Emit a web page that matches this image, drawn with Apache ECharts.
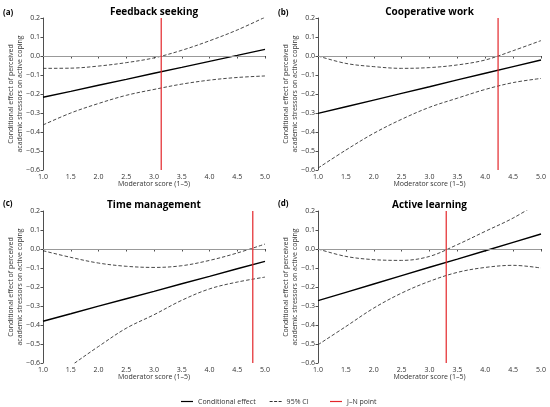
<!DOCTYPE html>
<html lang="en">
<head>
<meta charset="UTF-8">
<title>Conditional effect plots</title>
<script src="https://cdn.jsdelivr.net/npm/echarts@6/dist/echarts.min.js"></script>
<style>
  html, body { margin: 0; padding: 0; background: #fff; }
  #main { width: 550px; height: 407px; }
</style>
</head>
<body>
<div id="main"></div>
<script>
var moderator = [1.0, 1.5, 2.0, 2.5, 3.0, 3.5, 4.0, 4.5, 5.0];
var yTicks = [-0.6, 0.2, 0.1];   // min, max, step
var xTicks = [1.0, 5.0, 0.5];

var panelTitles = ['Feedback seeking', 'Cooperative work', 'Time management', 'Active learning'];
var panelLabels = ['(a)', '(b)', '(c)', '(d)'];
var jnPoints = [3.13, 4.23, 4.78, 3.30];

// (a) feedback seeking
var effectA = [-0.217, -0.186, -0.154, -0.123, -0.091, -0.060, -0.028, 0.003, 0.035];
var upperA  = [-0.065, -0.064, -0.053, -0.035, -0.010, 0.030, 0.080, 0.137, 0.204];
var lowerA  = [-0.363, -0.300, -0.250, -0.207, -0.176, -0.148, -0.127, -0.113, -0.105];
// (b) cooperative work
var effectB = [-0.302, -0.267, -0.232, -0.197, -0.162, -0.126, -0.091, -0.056, -0.021];
var upperB  = [0.000, -0.039, -0.056, -0.065, -0.061, -0.047, -0.021, 0.028, 0.081];
var lowerB  = [-0.590, -0.495, -0.407, -0.333, -0.270, -0.222, -0.176, -0.140, -0.118];
// (c) time management
var effectC = [-0.380, -0.341, -0.301, -0.262, -0.223, -0.183, -0.144, -0.104, -0.065];
var upperC  = [-0.009, -0.044, -0.074, -0.091, -0.097, -0.088, -0.060, -0.021, 0.026];
var lowerC  = [-0.720, -0.615, -0.513, -0.417, -0.346, -0.270, -0.210, -0.174, -0.148];
// (d) active learning
var effectD = [-0.272, -0.228, -0.184, -0.140, -0.096, -0.053, -0.009, 0.035, 0.079];
var upperD  = [0.000, -0.039, -0.056, -0.060, -0.039, 0.023, 0.093, 0.163, 0.250];
var lowerD  = [-0.504, -0.408, -0.311, -0.232, -0.170, -0.123, -0.097, -0.086, -0.100];

var effects = [effectA, effectB, effectC, effectD];
var uppers = [upperA, upperB, upperC, upperD];
var lowers = [lowerA, lowerB, lowerC, lowerD];

var FONT = '"Open Sans", "Noto Sans", sans-serif';

// plot boxes in pixels
var boxes = [
    { left: 43, top: 18, width: 222, height: 152 },
    { left: 318, top: 18, width: 223, height: 152 },
    { left: 43, top: 211, width: 222, height: 152 },
    { left: 318, top: 211, width: 223, height: 152 }
];

function pairs(ys) {
    return moderator.map(function (x, i) { return [x, ys[i]]; });
}

function fmt(v) {
    var s = Math.abs(v).toFixed(1);
    return (v < -1e-9 ? '\u2212' : '') + s;
}

var grids = [], xAxes = [], yAxes = [], series = [], titles = [];

boxes.forEach(function (b, i) {
    grids.push({ left: b.left, top: b.top, width: b.width, height: b.height });

    xAxes.push({
        gridIndex: i, type: 'value',
        min: xTicks[0], max: xTicks[1], interval: xTicks[2],
        name: 'Moderator score (1\u20135)', nameLocation: 'middle', nameGap: 10,
        nameMoveOverlap: false,
        nameTextStyle: { fontFamily: FONT, fontSize: 7, color: '#333' },
        axisLine: { lineStyle: { color: '#222', width: 0.8 } },
        axisTick: { length: 2.5, lineStyle: { color: '#222', width: 0.8 } },
        axisLabel: { fontFamily: FONT, fontSize: 7, color: '#333', margin: 3,
                     formatter: function (v) { return v.toFixed(1); } },
        splitLine: { show: false }
    });

    yAxes.push({
        gridIndex: i, type: 'value',
        min: yTicks[0], max: yTicks[1], interval: yTicks[2],
        name: 'Conditional effect of perceived\nacademic stressors on active coping',
        nameLocation: 'middle', nameGap: 19, nameRotate: 90,
        nameMoveOverlap: false,
        nameTextStyle: { fontFamily: FONT, fontSize: 7, color: '#333', lineHeight: 9 },
        axisLine: { show: true, lineStyle: { color: '#222', width: 0.8 } },
        axisTick: { show: true, length: 2.5, lineStyle: { color: '#222', width: 0.8 } },
        axisLabel: { fontFamily: FONT, fontSize: 7, color: '#333', margin: 3, formatter: fmt },
        splitLine: { show: false }
    });

    titles.push({
        text: panelTitles[i],
        left: b.left + b.width / 2, top: i < 2 ? 7 : 200, textAlign: 'center', padding: 0,
        textStyle: { fontFamily: FONT, fontSize: 10, fontWeight: 'bold', color: '#000' }
    });
    titles.push({
        text: panelLabels[i],
        left: i % 2 === 0 ? 3 : 278, top: i < 2 ? 9 : 200, padding: 0,
        textStyle: { fontFamily: FONT, fontSize: 8, fontWeight: 'bold', color: '#000' }
    });

    series.push({
        name: 'Conditional effect', type: 'line',
        xAxisIndex: i, yAxisIndex: i, data: pairs(effects[i]),
        symbol: 'none', z: 4,
        lineStyle: { color: '#000', width: 1.4 }, itemStyle: { color: '#000' },
        markLine: {
            silent: true, symbol: 'none', label: { show: false },
            lineStyle: { color: '#999', type: 'solid', width: 1 },
            data: [{ yAxis: 0 }]
        }
    });
    [uppers[i], lowers[i]].forEach(function (band) {
        series.push({
            name: '95% CI', type: 'line',
            xAxisIndex: i, yAxisIndex: i, data: pairs(band),
            symbol: 'none', smooth: 0.35, z: 3,
            lineStyle: { color: '#333', width: 0.9, type: [3.5, 2] }, itemStyle: { color: '#333' }
        });
    });
    series.push({
        name: 'J\u2013N point', type: 'line',
        xAxisIndex: i, yAxisIndex: i,
        data: [[jnPoints[i], yTicks[0]], [jnPoints[i], yTicks[1]]],
        symbol: 'none', z: 5,
        lineStyle: { color: '#e3262a', width: 1.2 }, itemStyle: { color: '#e3262a' }
    });
});

var solidIcon = 'path://M0,0H20V2H0Z';
var dashIcon = 'path://M0,0H5V2H0Z M7.5,0H12.5V2H7.5Z M15,0H20V2H15Z';
var legendBase = {
    top: 398, padding: 0, itemWidth: 12, itemHeight: 1.3, itemGap: 14,
    textStyle: { fontFamily: FONT, fontSize: 7, color: '#333' },
    selectedMode: false
};

var myChart = echarts.init(document.getElementById('main'), null, { renderer: 'canvas' });
myChart.setOption({
    animation: false,
    backgroundColor: '#fff',
    title: titles,
    grid: grids,
    xAxis: xAxes,
    yAxis: yAxes,
    legend: [
        Object.assign({}, legendBase, {
            left: 181,
            data: [
                { name: 'Conditional effect', icon: solidIcon, itemStyle: { color: '#000' } },
                { name: '95% CI', icon: dashIcon, itemStyle: { color: '#333' } }
            ]
        }),
        Object.assign({}, legendBase, {
            left: 330,
            data: [{ name: 'J\u2013N point', icon: solidIcon, itemStyle: { color: '#e3262a' } }]
        })
    ],
    series: series
});
</script>
</body>
</html>
